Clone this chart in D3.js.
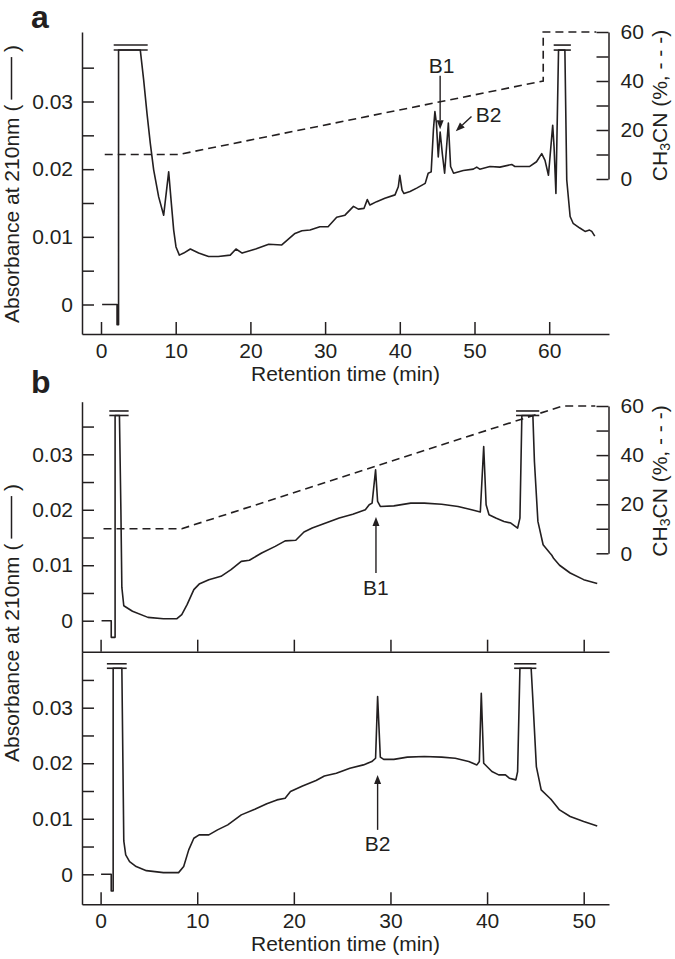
<!DOCTYPE html>
<html><head><meta charset="utf-8">
<script src="https://cdn.jsdelivr.net/npm/d3@7"></script>
<style>
body{margin:0;background:#fff;}
svg{display:block;font-family:"Liberation Sans",Arial,Helvetica,sans-serif;}
</style></head><body>
<svg id="c" width="675" height="959"></svg>
<script>
// ---------- tick values ----------
const absTicksMajor = [0, 0.01, 0.02, 0.03];
const absTicksMinor = [0.005, 0.015, 0.025, 0.035];
const pctTicks = [0, 10, 20, 30, 40, 50, 60];
const pctLabels = [0, 20, 40, 60];
const timeTicksA = [0, 10, 20, 30, 40, 50, 60];
const timeTicksB = [0, 10, 20, 30, 40, 50];

// ---------- panel a ----------
const aTime = [0.15,2.15,2.15,2.35,2.35,5.26,5.71,6.16,6.6,7.05,7.72,8.39,9.06,9.42,9.73,10.04,10.49,11.07,11.96,13.07,14.4,15.7,17.3,18.07,18.9,20.7,22.45,24.2,25.97,26.9,27.98,29.3,30.4,31.55,32.66,33.8,34.45,35.2,35.65,36.0,36.9,38.0,39.36,39.8,40.0,40.3,40.56,41.37,42.26,43.4,43.8,44.2,44.5,44.7,44.9,45.15,45.4,45.7,46.0,46.5,46.8,47.2,48.5,49.84,50.3,50.7,52.07,53.4,54.98,55.4,57.4,58.3,59.0,59.44,59.9,60.47,60.65,60.9,61.25,62.1,62.35,62.8,63.2,64.1,64.8,65.4,65.7,66.1];
const aAbs = [0,0,-0.003,-0.003,0.0376,0.0376,0.0332,0.0282,0.0238,0.0199,0.0159,0.0132,0.0196,0.0149,0.011,0.0085,0.0073,0.0076,0.0082,0.0076,0.0071,0.0071,0.0073,0.0082,0.0076,0.0082,0.0089,0.0088,0.0105,0.0109,0.011,0.0115,0.0115,0.0129,0.0132,0.0145,0.0141,0.0142,0.0155,0.0147,0.0152,0.0157,0.0162,0.0174,0.0191,0.0169,0.0164,0.0167,0.0172,0.0179,0.0194,0.0196,0.0258,0.0285,0.0268,0.0218,0.0255,0.0222,0.0194,0.0268,0.0204,0.0194,0.0198,0.02,0.0203,0.02,0.0204,0.0203,0.0207,0.0204,0.0204,0.0211,0.0223,0.0213,0.0191,0.0265,0.0233,0.0164,0.0376,0.0376,0.0184,0.013,0.012,0.0113,0.0108,0.011,0.0108,0.0101];
const aGradTime = [0.5, 10.4, 59.2, 59.2, 66.3];
const aGradPct = [10, 10, 40, 60, 60];
const aBreakStart = [1.7, 60.6];
const aBreakEnd = [6.25, 62.9];
const aClip = 0.0376;
const aLabels = ["B1", "B2"];
const aLabelTime = [45.6, 51.9];
const aLabelAbs = [0.0342, 0.0269];
const aArrowFromTime = [45.4, 49.6];
const aArrowFromAbs = [0.0338, 0.0278];
const aArrowToTime = [45.4, 47.5];
const aArrowToAbs = [0.0259, 0.0256];

// ---------- panel b (upper) ----------
const bTopTime = [0.1,1.1,1.1,1.5,1.5,1.95,2.1,2.2,2.4,3.3,4.9,6.5,7.9,8.4,8.95,9.65,10.2,11.2,12.46,13.5,14.56,15.4,16.67,18.07,19.1,20.2,21.05,21.9,23.3,24.7,26.1,27.4,27.8,28.1,28.46,28.67,28.95,30.35,32.1,33.5,35.3,37.0,38.4,39.3,39.65,39.9,40.2,40.9,41.75,42.46,43.16,43.4,43.6,44.74,44.9,45.26,45.8,46.5,46.7,46.9,47.5,48.6,50.0,51.4];
const bTopAbs = [0,0,-0.003,-0.003,0.037,0.037,0.02,0.006,0.0027,0.0017,0.0006,0.00036,0.00036,0.0011,0.0029,0.0056,0.0066,0.0074,0.008,0.0092,0.0107,0.0109,0.0122,0.0134,0.0144,0.0145,0.016,0.0167,0.0176,0.0185,0.0192,0.02,0.0209,0.0212,0.0272,0.0215,0.0206,0.0207,0.0212,0.0212,0.021,0.0206,0.02,0.0196,0.0314,0.0209,0.0191,0.0185,0.0179,0.0176,0.0167,0.0185,0.037,0.037,0.0287,0.0179,0.0137,0.0122,0.0118,0.0112,0.01,0.0086,0.0074,0.0067];
const bGradTime = [0.3, 8.4, 47.8, 51.2];
const bGradPct = [10, 10, 60, 60];
const bTopBreakStart = [0.9, 43.0];
const bTopBreakEnd = [2.9, 45.4];
const bTopClip = 0.037;
const bTopLabels = ["B1"];
const bTopLabelTime = [28.5];
const bTopLabelAbs = [0.00463];
const bTopArrowFromTime = [28.5];
const bTopArrowFromAbs = [0.0086];
const bTopArrowToTime = [28.5];
const bTopArrowToAbs = [0.0187];

// ---------- panel b (lower) ----------
const bBotTime = [0.05,1.1,1.1,1.3,1.3,2.2,2.4,2.6,3.0,3.68,4.74,6.5,8.07,8.6,9.12,9.65,10.2,11.2,12.1,13.16,14.56,15.96,17.2,18.25,19.1,19.65,20.9,22.3,23.16,24.4,25.8,27.2,28.07,28.46,28.67,28.95,29.3,30.35,31.75,33.5,35.3,36.7,38.1,38.95,39.2,39.4,39.65,40.5,41.2,41.9,42.3,42.98,43.16,43.4,44.56,44.74,45.1,45.6,46.5,46.67,47.5,48.6,50.0,51.4];
const bBotAbs = [0,0,-0.003,-0.003,0.0371,0.0371,0.006,0.0035,0.0023,0.0014,0.00066,0.0003,0.0003,0.0014,0.0044,0.0065,0.0071,0.0071,0.008,0.0089,0.0107,0.0117,0.0127,0.0134,0.0137,0.0149,0.0159,0.0169,0.0177,0.0182,0.0191,0.0197,0.0203,0.0209,0.032,0.0211,0.0207,0.0207,0.0211,0.0212,0.0211,0.0209,0.0203,0.0197,0.0203,0.0326,0.02,0.0185,0.0179,0.0179,0.0173,0.017,0.0185,0.0371,0.0371,0.0314,0.0194,0.0152,0.0137,0.0134,0.0116,0.0104,0.0095,0.0087];
const bBotBreakStart = [0.65, 42.8];
const bBotBreakEnd = [2.7, 45.1];
const bBotClip = 0.0371;
const bBotLabels = ["B2"];
const bBotLabelTime = [28.67];
const bBotLabelAbs = [0.0042];
const bBotArrowFromTime = [28.67];
const bBotArrowFromAbs = [0.008];
const bBotArrowToTime = [28.67];
const bBotArrowToAbs = [0.0179];

// ---------- drawing ----------
const svg = d3.select("#c");
const ink = "#231f20";
const FS = 21;

function ext(domain, range, full) {
  const s = d3.scaleLinear().domain(domain).range(range);
  return d3.scaleLinear().domain([s.invert(full[0]), s.invert(full[1])]).range(full);
}
function styleAxis(g, keepDomain) {
  g.attr("font-size", null).attr("font-family", null);
  if (keepDomain) g.selectAll("path.domain").attr("stroke", ink).attr("stroke-width", 1.5);
  else g.selectAll("path.domain").remove();
  g.selectAll(".tick line").attr("stroke", ink).attr("stroke-width", 1.5);
  g.selectAll(".tick text").attr("fill", ink).style("font-size", FS + "px");
}
const fmtAbs = d => d === 0 ? "0" : d3.format(".2f")(d);

function leftAxis(y, x0) {
  svg.append("g").attr("transform", `translate(${x0},0)`)
    .call(d3.axisLeft(y).tickValues(absTicksMajor).tickSize(-12).tickSizeOuter(0).tickPadding(9).tickFormat(fmtAbs))
    .call(g => styleAxis(g, true));
  svg.append("g").attr("transform", `translate(${x0},0)`)
    .call(d3.axisLeft(y).tickValues(absTicksMinor).tickSize(-12).tickSizeOuter(0).tickFormat(""))
    .call(g => styleAxis(g, false));
}
function bottomAxis(x, y0, ticks, labels) {
  svg.append("g").attr("transform", `translate(0,${y0})`)
    .call(d3.axisBottom(x).tickValues(ticks).tickSize(-12).tickSizeOuter(0).tickPadding(9).tickFormat(labels ? d3.format("d") : ""))
    .call(g => styleAxis(g, true));
}
function rightAxis(p, x0) {
  svg.append("g").attr("transform", `translate(${x0},0)`)
    .call(d3.axisRight(p).tickValues(pctTicks).tickSize(-12).tickSizeOuter(0).tickPadding(12)
      .tickFormat(d => pctLabels.includes(d) ? String(d) : ""))
    .call(g => styleAxis(g, true));
}
function trace(x, y, T, V) {
  const line = d3.line().x(i => x(T[i])).y(i => y(V[i]));
  svg.append("path").attr("d", line(d3.range(T.length)))
    .attr("fill", "none").attr("stroke", ink).attr("stroke-width", 1.6).attr("stroke-linejoin", "round");
}
function gradient(x, p, T, P) {
  const line = d3.line().x(i => x(T[i])).y(i => p(P[i]));
  svg.append("path").attr("d", line(d3.range(T.length)))
    .attr("fill", "none").attr("stroke", ink).attr("stroke-width", 1.6).attr("stroke-dasharray", "8,5");
}
function breaks(x, y, S, E, clip, gapPx) {
  S.forEach((s, i) => {
    [0, gapPx].forEach(off => {
      svg.append("line").attr("x1", x(s)).attr("x2", x(E[i]))
        .attr("y1", y(clip) - off).attr("y2", y(clip) - off)
        .attr("stroke", ink).attr("stroke-width", 1.6);
    });
  });
}
function annotate(x, y, L, LT, LA, FT, FA, TT, TA) {
  L.forEach((lab, i) => {
    svg.append("text").attr("x", x(LT[i])).attr("y", y(LA[i])).attr("text-anchor", "middle")
      .attr("fill", ink).style("font-size", FS + "px").text(lab);
    const x1 = x(FT[i]), y1 = y(FA[i]), x2 = x(TT[i]), y2 = y(TA[i]);
    const ang = Math.atan2(y2 - y1, x2 - x1), hl = 9, hw = 3.5;
    const bx = x2 - hl * Math.cos(ang), by = y2 - hl * Math.sin(ang);
    svg.append("line").attr("x1", x1).attr("y1", y1).attr("x2", bx).attr("y2", by)
      .attr("stroke", ink).attr("stroke-width", 1.4);
    const px = -Math.sin(ang) * hw, py = Math.cos(ang) * hw;
    svg.append("path").attr("d", `M${x2},${y2}L${bx + px},${by + py}L${bx - px},${by - py}Z`).attr("fill", ink);
  });
}

// Panel a scales
const xA = ext([0, 60], [101, 549.2], [82, 609]);
const yA = ext([0, 0.03], [304.5, 101.5], [334, 32]);
const pA = d3.scaleLinear().domain([0, 60]).range([179, 32]);
// Panel b scales
const xB = ext([0, 50], [100.6, 583.7], [82, 609]);
const yBt = ext([0, 0.03], [620.7, 454.3], [651.7, 401.7]);
const yBb = ext([0, 0.03], [874.3, 707.7], [904.3, 651.7]);
const pB = d3.scaleLinear().domain([0, 60]).range([553.3, 406]);

// Panel a
leftAxis(yA, 82);
bottomAxis(xA, 334, timeTicksA, true);
rightAxis(pA, 608.5);
gradient(xA, pA, aGradTime, aGradPct);
trace(xA, yA, aTime, aAbs);
breaks(xA, yA, aBreakStart, aBreakEnd, aClip, 5);
annotate(xA, yA, aLabels, aLabelTime, aLabelAbs, aArrowFromTime, aArrowFromAbs, aArrowToTime, aArrowToAbs);

// Panel b upper
leftAxis(yBt, 82);
bottomAxis(xB, 651.7, timeTicksB, false);
rightAxis(pB, 608.5);
gradient(xB, pB, bGradTime, bGradPct);
trace(xB, yBt, bTopTime, bTopAbs);
breaks(xB, yBt, bTopBreakStart, bTopBreakEnd, bTopClip, 4.5);
annotate(xB, yBt, bTopLabels, bTopLabelTime, bTopLabelAbs, bTopArrowFromTime, bTopArrowFromAbs, bTopArrowToTime, bTopArrowToAbs);

// Panel b lower
leftAxis(yBb, 82);
bottomAxis(xB, 904.3, timeTicksB, true);
trace(xB, yBb, bBotTime, bBotAbs);
breaks(xB, yBb, bBotBreakStart, bBotBreakEnd, bBotClip, 4.5);
annotate(xB, yBb, bBotLabels, bBotLabelTime, bBotLabelAbs, bBotArrowFromTime, bBotArrowFromAbs, bBotArrowToTime, bBotArrowToAbs);

// Titles
svg.append("text").attr("x", 345.5).attr("y", 381).attr("text-anchor", "middle").attr("fill", ink)
  .style("font-size", FS + "px").text("Retention time (min)");
svg.append("text").attr("x", 345.5).attr("y", 951).attr("text-anchor", "middle").attr("fill", ink)
  .style("font-size", FS + "px").text("Retention time (min)");

// Left rotated label with a drawn solid line inside the parentheses
function absLabel(cx, cy) {
  const g = svg.append("g").attr("transform", `translate(${cx},${cy}) rotate(-90)`);
  const pre = "Absorbance at 210nm (", gap = "\u00a0".repeat(9), post = ")";
  const t = g.append("text").attr("text-anchor", "middle").attr("fill", ink)
    .style("font-size", FS + "px").text(pre + gap + post);
  const node = t.node();
  const total = node.getComputedTextLength();
  const a = node.getSubStringLength(0, pre.length);
  const w = node.getSubStringLength(pre.length, gap.length);
  const x0 = -total / 2 + a;
  g.append("line").attr("x1", x0 + 5).attr("x2", x0 + w - 5).attr("y1", -7).attr("y2", -7)
    .attr("stroke", ink).attr("stroke-width", 1.5);
}
absLabel(18.5, 184);
absLabel(18.5, 623);

function pctLabel(cx, cy) {
  const t = svg.append("text").attr("transform", `translate(${cx},${cy}) rotate(-90)`)
    .attr("text-anchor", "middle").attr("fill", ink).style("font-size", FS + "px");
  t.append("tspan").text("CH");
  t.append("tspan").attr("dy", 3).style("font-size", "14px").text("3");
  t.append("tspan").attr("dy", -3).text("CN (%, - - -)");
}
pctLabel(667, 105.5);
pctLabel(667, 481);

// Panel letters
svg.append("text").attr("x", 31).attr("y", 28).attr("fill", ink).attr("font-weight", "bold")
  .style("font-size", "32px").text("a");
svg.append("text").attr("x", 31).attr("y", 393).attr("fill", ink).attr("font-weight", "bold")
  .style("font-size", "32px").text("b");
</script>
</body></html>
